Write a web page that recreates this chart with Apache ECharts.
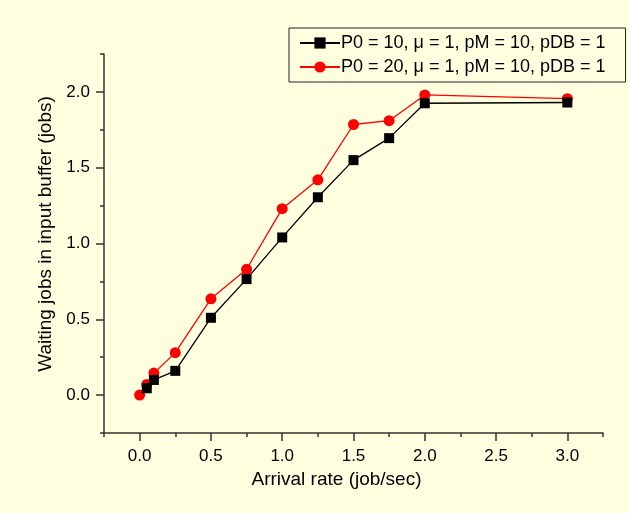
<!DOCTYPE html>
<html>
<head>
<meta charset="utf-8">
<script src="https://cdn.jsdelivr.net/npm/echarts@6/dist/echarts.min.js"></script>
<style>
html,body{margin:0;padding:0;background:#FFFFE0;}
#c{width:629px;height:513px;}
</style>
</head>
<body>
<div id="c"></div>
<script>
// Data
const seriesNames = ['P0 = 10, \u03bc = 1, pM = 10, pDB = 1', 'P0 = 20, \u03bc = 1, pM = 10, pDB = 1'];
const rateA = [0.05, 0.1, 0.25, 0.5, 0.75, 1.0, 1.25, 1.5, 1.75, 2.0, 3.0];
const waitA = [0.045, 0.10, 0.16, 0.51, 0.765, 1.04, 1.305, 1.55, 1.695, 1.925, 1.93];
const rateB = [0.0, 0.05, 0.1, 0.25, 0.5, 0.75, 1.0, 1.25, 1.5, 1.75, 2.0, 3.0];
const waitB = [0.0, 0.07, 0.145, 0.28, 0.635, 0.83, 1.23, 1.42, 1.785, 1.81, 1.98, 1.955];
const xMajorTicks = [0.0, 0.5, 1.0, 1.5, 2.0, 2.5, 3.0];
const xMinorTicks = [-0.25, 0.25, 0.75, 1.25, 1.75, 2.25, 2.75, 3.25];
const yMajorTicks = [0.0, 0.5, 1.0, 1.5, 2.0];
const yMinorTicks = [-0.25, 0.25, 0.75, 1.25, 1.75, 2.25];

const FONT = 'Liberation Sans, Arial, sans-serif';
const AXIS_COLOR = '#333333';

function pairs(xs, ys) { return xs.map((x, i) => [x, ys[i]]); }

const chart = echarts.init(document.getElementById('c'), null, {renderer: 'canvas'});

const xBase = {
  type: 'value', min: -0.25, max: 3.25, splitLine: {show: false}
};
const yBase = {
  type: 'value', min: -0.25, max: 2.25, splitLine: {show: false}
};

chart.setOption({
  backgroundColor: '#FFFFE0',
  animation: false,
  textStyle: {fontFamily: FONT},
  grid: {left: 104, right: 26, top: 54, bottom: 80, containLabel: false},
  legend: {
    orient: 'vertical',
    left: 289, top: 28,
    padding: [6, 20, 6, 10],
    itemGap: 6,
    itemWidth: 40, itemHeight: 14,
    borderColor: '#222', borderWidth: 1,
    backgroundColor: '#FFFFE0',
    textStyle: {fontFamily: FONT, fontSize: 18, color: '#000', padding: [0, 0, 0, -4]},
    data: seriesNames
  },
  xAxis: [
    Object.assign({}, xBase, {
      position: 'bottom',
      name: 'Arrival rate (job/sec)', nameLocation: 'middle', nameGap: 36,
      nameTextStyle: {fontFamily: FONT, fontSize: 19, color: '#000', padding: [0, 34, 0, 0]},
      axisLine: {show: true, onZero: false, lineStyle: {color: AXIS_COLOR, width: 1.5}},
      axisTick: {show: true, inside: false, length: 8, customValues: xMajorTicks, lineStyle: {color: AXIS_COLOR, width: 1.5}},
      axisLabel: {show: true, customValues: xMajorTicks, margin: 15, fontFamily: FONT, fontSize: 17, color: '#000',
        formatter: v => Number(v).toFixed(1)}
    }),
    Object.assign({}, xBase, {
      position: 'bottom',
      axisLine: {show: false, onZero: false},
      axisTick: {show: true, inside: false, length: 4, customValues: xMinorTicks, lineStyle: {color: AXIS_COLOR, width: 1.5}},
      axisLabel: {show: false}
    })
  ],
  yAxis: [
    Object.assign({}, yBase, {
      position: 'left',
      name: 'Waiting jobs in input buffer (jobs)', nameLocation: 'middle', nameGap: 45, nameRotate: 90,
      nameTextStyle: {fontFamily: FONT, fontSize: 19, color: '#000', padding: [0, 0, 0, 19]},
      axisLine: {show: true, onZero: false, lineStyle: {color: AXIS_COLOR, width: 1.5}},
      axisTick: {show: true, inside: false, length: 8, customValues: yMajorTicks, lineStyle: {color: AXIS_COLOR, width: 1.5}},
      axisLabel: {show: true, customValues: yMajorTicks, margin: 14, fontFamily: FONT, fontSize: 17, color: '#000',
        formatter: v => Number(v).toFixed(1)}
    }),
    Object.assign({}, yBase, {
      position: 'left',
      axisLine: {show: false, onZero: false},
      axisTick: {show: true, inside: false, length: 4, customValues: yMinorTicks, lineStyle: {color: AXIS_COLOR, width: 1.5}},
      axisLabel: {show: false}
    })
  ],
  series: [
    {
      name: seriesNames[0], type: 'line', xAxisIndex: 0, yAxisIndex: 0,
      data: pairs(rateA, waitA),
      symbol: 'rect', symbolSize: 10,
      lineStyle: {color: '#000', width: 1.3},
      itemStyle: {color: '#000'},
      z: 3
    },
    {
      name: seriesNames[1], type: 'line', xAxisIndex: 0, yAxisIndex: 0,
      data: pairs(rateB, waitB),
      symbol: 'circle', symbolSize: 11,
      lineStyle: {color: '#FF0000', width: 1.3},
      itemStyle: {color: '#FF0000'},
      z: 2
    }
  ]
});
</script>
</body>
</html>
